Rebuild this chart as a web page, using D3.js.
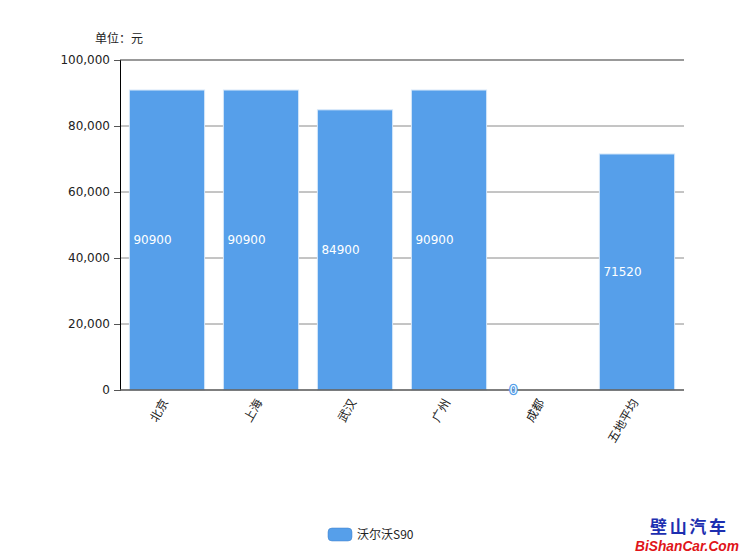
<!DOCTYPE html>
<html><head><meta charset="utf-8">
<script src="https://cdn.jsdelivr.net/npm/d3@7"></script>
<style>body{margin:0;background:#fff;}svg{display:block;font-family:"DejaVu Sans","Noto Sans CJK SC",sans-serif;}</style>
</head><body>
<svg id="c" width="744" height="557"></svg>
<script>
const categories = ["北京","上海","武汉","广州","成都","五地平均"];
const values = [90900, 90900, 84900, 90900, 0, 71520];
const yTicks = [0, 20000, 40000, 60000, 80000, 100000];
const seriesName = "沃尔沃S90";
const unitLabel = "单位：元";

const svg = d3.select("#c");
const m = {l:120, r:684, t:60, b:390};
const x = d3.scaleBand().domain(categories).range([m.l, m.r]).paddingInner(0.2).paddingOuter(0.1);
const y = d3.scaleLinear().domain([0, 100000]).range([m.b, m.t]);
const color = "#569fea";

// gridlines
svg.append("g").selectAll("line").data(yTicks.filter(d=>d>0)).join("line")
  .attr("x1", m.l).attr("x2", m.r).attr("y1", d=>y(d)).attr("y2", d=>y(d))
  .attr("stroke", d=>d===100000?"#777":"#8a8a8a").attr("stroke-width", d=>d===100000?1.5:1);

// y axis
const ya = svg.append("g").attr("transform", `translate(${m.l},0)`)
  .call(d3.axisLeft(y).tickValues(yTicks).tickFormat(d3.format(",")).tickSize(6).tickPadding(4));
ya.select(".domain").attr("stroke", "#000");
ya.selectAll(".tick line").attr("stroke", "#555");
ya.selectAll("text").attr("font-size", 12).attr("fill", "#222").attr("font-family", "DejaVu Sans");

// bars
svg.append("g").selectAll("rect").data(values).join("rect")
  .attr("x", (d,i)=>x(categories[i])).attr("width", x.bandwidth())
  .attr("y", d=>y(d)).attr("height", d=>y(0)-y(d))
  .attr("fill", color).attr("stroke", "#d4e6f9").attr("stroke-width", 1)
  .attr("display", d=>d>0?null:"none");

// x axis line
svg.append("line").attr("x1", m.l).attr("x2", m.r).attr("y1", y(0)).attr("y2", y(0))
  .attr("stroke", "#555").attr("stroke-width", 1.5);

// value labels
svg.append("g").selectAll("text").data(values).join("text")
  .attr("x", (d,i)=>x(categories[i])+4)
  .attr("y", d=>(y(d)+y(0))/2)
  .attr("dy", "0.35em")
  .attr("font-size", 12)
  .attr("fill", "#fff")
  .attr("stroke", d=>d>0?"none":color)
  .attr("stroke-width", d=>d>0?0:2.5)
  .attr("paint-order", "stroke")
  .text(d=>d);

// x labels rotated
svg.append("g").selectAll("text").data(categories).join("text")
  .attr("transform", d=>`translate(${x(d)+x.bandwidth()/2-2},${y(0)+10}) rotate(-60)`)
  .attr("text-anchor", "end").attr("dy", "0.35em")
  .attr("font-size", 12).attr("fill", "#222")
  .attr("font-family", "Noto Sans CJK SC")
  .text(d=>d);

// unit label
svg.append("text").attr("x", 95).attr("y", 43).attr("font-size", 12).attr("fill", "#222")
  .attr("font-family", "Noto Sans CJK SC").text(unitLabel);

// legend
svg.append("rect").attr("x", 328).attr("y", 528).attr("width", 24).attr("height", 13).attr("rx", 4)
  .attr("fill", color).attr("stroke", "#3d7fc9").attr("stroke-width", 0.5);
svg.append("text").attr("x", 357).attr("y", 539).attr("font-size", 12).attr("fill", "#222")
  .attr("font-family", "Noto Sans CJK SC").text(seriesName);

// watermark
svg.append("text").attr("x", 650).attr("y", 533).attr("font-size", 17)
  .attr("font-weight", "bold").attr("fill", "#1d2fb0").attr("font-family", "Noto Sans CJK SC")
  .attr("textLength", 76).attr("lengthAdjust", "spacing").text("壁山汽车");
svg.append("text").attr("x", 635).attr("y", 551).attr("font-size", 14)
  .attr("font-weight", "bold").attr("font-style", "italic").attr("fill", "#e0141a")
  .attr("font-family", "Liberation Sans")
  .attr("textLength", 104).attr("lengthAdjust", "spacingAndGlyphs").text("BiShanCar.Com");
</script>
</body></html>
